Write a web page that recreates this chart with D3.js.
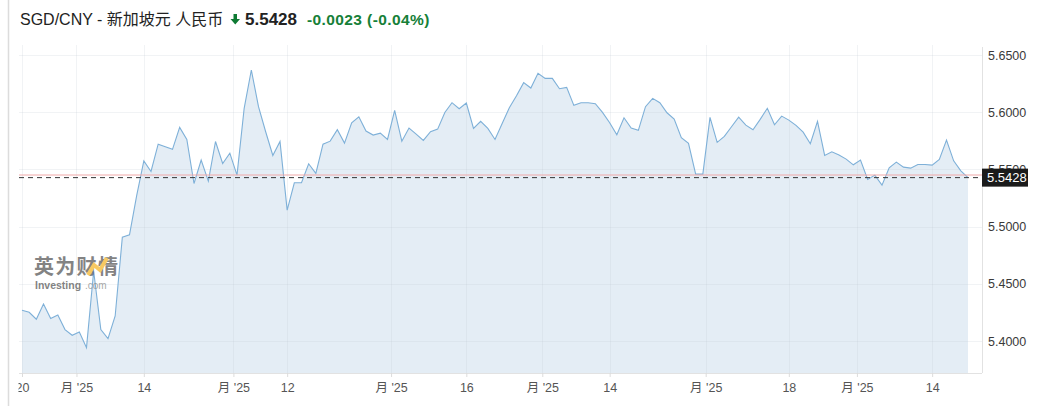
<!DOCTYPE html>
<html><head><meta charset="utf-8">
<script src="https://cdn.jsdelivr.net/npm/d3@7"></script>
<style>
html,body{margin:0;padding:0;background:#fff;}
svg{display:block;font-family:"Liberation Sans",Arial,"Noto Sans CJK SC",sans-serif;}
</style></head><body>
<svg id="c" width="1050" height="406"></svg>
<script>
const values = [5.4269,5.4251,5.4190,5.4324,5.4196,5.4228,5.4100,5.4050,5.4079,5.3942,
5.4610,5.4100,5.4021,5.4219,5.4907,5.4928,5.5270,5.5575,5.5482,5.5721,
5.5698,5.5675,5.5867,5.5762,5.5377,5.5581,5.5397,5.5744,5.5552,5.5642,
5.5450,5.6034,5.6369,5.6048,5.5829,5.5622,5.5744,5.5144,5.5383,5.5383,
5.5549,5.5465,5.5721,5.5747,5.5847,5.5730,5.5908,5.5960,5.5835,5.5800,
5.5817,5.5762,5.6016,5.5747,5.5861,5.5809,5.5753,5.5829,5.5852,5.5998,
5.6083,5.6030,5.6080,5.5858,5.5920,5.5858,5.5762,5.5902,5.6039,5.6144,
5.6258,5.6211,5.6340,5.6296,5.6296,5.6205,5.6217,5.6060,5.6083,5.6083,
5.6074,5.5998,5.5908,5.5803,5.5951,5.5861,5.5841,5.6048,5.6121,5.6083,
5.5995,5.5940,5.5777,5.5727,5.5459,5.5459,5.5955,5.5736,5.5789,5.5873,
5.5957,5.5887,5.5847,5.5937,5.6034,5.5890,5.5966,5.5931,5.5885,5.5826,
5.5724,5.5920,5.5622,5.5654,5.5625,5.5590,5.5540,5.5581,5.5412,5.5450,
5.5362,5.5514,5.5564,5.5520,5.5511,5.5543,5.5543,5.5537,5.5587,5.5756,
5.5575,5.5488,5.5428];
const xTickPos = [0,7.6,17,29.5,37,51.5,62,72.6,82,95.4,107,116.5,127];
const xTickLabels = ["20","月 '25","14","月 '25","12","月 '25","16","月 '25","14","月 '25","18","月 '25","14"];
const yTicks = [5.40,5.45,5.50,5.55,5.60,5.65];
const lastPrice = 5.5428;
const prevClose = 5.5451;
const titleName = "SGD/CNY - 新加坡元 人民币";
const titlePrice = "5.5428";
const titleChange = "-0.0023 (-0.04%)";

const svg = d3.select("#c");
const R = 982, T = 45, B = 373;
const x = d3.scaleLinear().domain([0, values.length - 1]).range([22, 968]);
const y = d3.scaleLinear().domain([5.40, 5.65]).range([341, 55]);

// left border
svg.append("line").attr("x1",8.5).attr("x2",8.5).attr("y1",0).attr("y2",406)
  .attr("stroke","#dcdcdc").attr("stroke-width",1.5);

// title
const tg = svg.append("g");
tg.append("text").attr("x",20).attr("y",25).attr("font-size",16).attr("fill","#222").text(titleName);
tg.append("path").attr("d","M233.5,14 h3.5 v5 h3 l-4.75,5.5 l-4.75,-5.5 h3 z").attr("fill","#0e7a33");
tg.append("text").attr("x",245).attr("y",25).attr("font-size",17).attr("font-weight","bold").attr("fill","#222").text(titlePrice);
tg.append("text").attr("x",307).attr("y",25).attr("font-size",15.5).attr("font-weight","bold").attr("letter-spacing",0.4).attr("fill","#168038").text(titleChange);

// area
svg.append("path").datum(values)
  .attr("d", d3.area().x((d,i)=>x(i)).y0(B).y1(d=>y(d)))
  .attr("fill","#e4edf5");

// grid
const grid = svg.append("g");
grid.selectAll("line.h").data(yTicks).join("line")
  .attr("x1",19).attr("x2",R).attr("y1",d=>Math.round(y(d))+0.5).attr("y2",d=>Math.round(y(d))+0.5)
  .attr("stroke","rgba(190,200,210,0.22)");
grid.selectAll("line.v").data(xTickPos).join("line")
  .attr("x1",d=>Math.round(x(d))+0.5).attr("x2",d=>Math.round(x(d))+0.5).attr("y1",T).attr("y2",B)
  .attr("stroke","rgba(190,200,210,0.22)");

// line
svg.append("path").datum(values)
  .attr("d", d3.line().x((d,i)=>x(i)).y(d=>y(d)))
  .attr("fill","none").attr("stroke","#7eb0d8").attr("stroke-width",1.1);

// axes lines
svg.append("line").attr("x1",19).attr("x2",R).attr("y1",B+0.5).attr("y2",B+0.5).attr("stroke","#e2e2e2");
svg.append("line").attr("x1",R+0.5).attr("x2",R+0.5).attr("y1",T+2).attr("y2",B).attr("stroke","#e2e2e2");

// y axis
const yAxis = d3.axisRight(y).tickValues(yTicks).tickSize(0).tickPadding(6).tickFormat(d3.format(".4f"));
const ya = svg.append("g").attr("transform",`translate(${R},0)`).call(yAxis);
ya.select(".domain").remove();
ya.selectAll("text").attr("font-size",12.5).attr("fill","#3a3a3a").attr("font-family","Liberation Sans, Arial, sans-serif");

// x axis (clipped at left edge like the reference)
svg.append("defs").append("clipPath").attr("id","xclip").append("rect")
  .attr("x",18.5).attr("y",-2).attr("width",1000).attr("height",40);
const xAxis = d3.axisBottom(x).tickValues(xTickPos).tickSize(4).tickPadding(6).tickFormat((d,i)=>xTickLabels[i]);
const xa = svg.append("g").attr("transform",`translate(0,${B})`).attr("clip-path","url(#xclip)").call(xAxis);
xa.select(".domain").remove();
xa.selectAll(".tick line").attr("stroke","#dcdcdc");
xa.selectAll("text").attr("font-size",12.5).attr("fill","#555").attr("font-family","Liberation Sans, Arial, Noto Sans CJK SC, sans-serif");

// reference lines
svg.append("line").attr("x1",19).attr("x2",R).attr("y1",y(prevClose)).attr("y2",y(prevClose))
  .attr("stroke","#f0a8a8").attr("stroke-width",1);
svg.append("line").attr("x1",19).attr("x2",R).attr("y1",y(lastPrice)).attr("y2",y(lastPrice))
  .attr("stroke","#333").attr("stroke-width",1).attr("stroke-dasharray","5,4");

// price label
const py = y(lastPrice);
svg.append("rect").attr("x",R).attr("y",py-9).attr("width",46).attr("height",18).attr("fill","#1b1b1b");
svg.append("text").attr("x",R+5).attr("y",py+4.5).attr("font-size",13).attr("fill","#fff").text(lastPrice.toFixed(4));

// watermark
const wm = svg.append("g").attr("opacity",0.75);
wm.append("text").attr("x",34).attr("y",274).attr("font-size",20).attr("font-weight","bold")
  .attr("fill","#5a5a5a").attr("font-family","Noto Sans CJK SC, sans-serif").attr("letter-spacing",1.3).text("英为财情");
wm.append("path").attr("d","M88,275 L94,265 L100,270 L107,258").attr("fill","none").attr("stroke","#f5b82e").attr("stroke-width",4);
wm.append("text").attr("x",35).attr("y",289).attr("font-size",10.5).attr("font-weight","bold").attr("fill","#5a5a5a").text("Investing");
wm.append("text").attr("x",85).attr("y",289).attr("font-size",10).attr("fill","#8a8a8a").text(".com");
</script></body></html>
